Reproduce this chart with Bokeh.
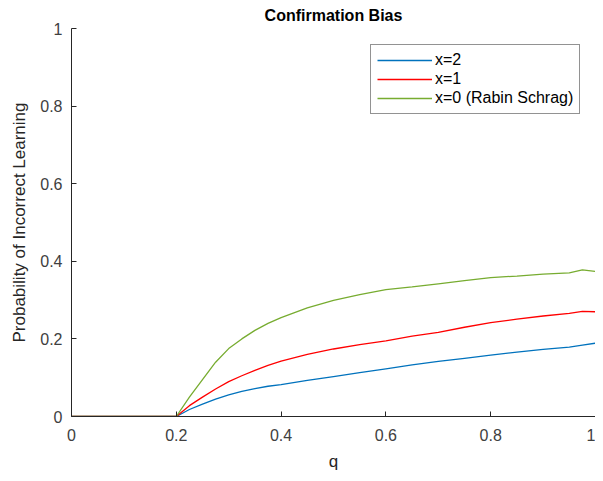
from bokeh.plotting import figure
from bokeh.models import FixedTicker, Legend, LegendItem, Range1d
from bokeh.embed import file_html
from bokeh.resources import INLINE

q = [0, 0.1, 0.2, 0.225, 0.25, 0.275, 0.3, 0.325, 0.35, 0.375, 0.4, 0.45,
     0.5, 0.55, 0.6, 0.65, 0.7, 0.75, 0.8, 0.85, 0.9, 0.95, 0.975, 1.0]
x2 = [0, 0, 0, 0.018, 0.032, 0.045, 0.056, 0.065, 0.072, 0.078, 0.082, 0.093,
      0.103, 0.113, 0.123, 0.133, 0.142, 0.150, 0.158, 0.166, 0.173, 0.179, 0.184, 0.189]
x1 = [0, 0, 0, 0.028, 0.05, 0.071, 0.09, 0.105, 0.119, 0.132, 0.143, 0.16,
      0.174, 0.185, 0.195, 0.207, 0.217, 0.23, 0.242, 0.251, 0.259, 0.266, 0.271, 0.270]
x0 = [0, 0, 0, 0.05, 0.095, 0.14, 0.175, 0.2, 0.222, 0.24, 0.255, 0.28,
      0.299, 0.314, 0.327, 0.334, 0.342, 0.35, 0.358, 0.362, 0.367, 0.370, 0.378, 0.374]
labels = ["x=2", "x=1", "x=0 (Rabin Schrag)"]
colors = ["#0072BD", "#FF0000", "#77AC30"]
ticks = [0, 0.2, 0.4, 0.6, 0.8, 1]
tick_text = {0: "0", 0.2: "0.2", 0.4: "0.4", 0.6: "0.6", 0.8: "0.8", 1: "1"}

FONT = "Liberation Sans"

p = figure(width=595, height=473, output_backend="svg", toolbar_location=None,
           x_range=Range1d(0, 1), y_range=Range1d(0, 1),
           min_border_left=71, min_border_right=0, min_border_bottom=55, min_border_top=0)
p.title.text = "Confirmation Bias"
p.title.align = "center"
p.title.text_font = FONT
p.title.text_font_size = "16px"
p.title.text_font_style = "bold"
p.title.text_color = "#000000"
p.title.standoff = 9
p.outline_line_color = None
p.grid.visible = False

for ax in (p.xaxis[0], p.yaxis[0]):
    ax.ticker = FixedTicker(ticks=ticks)
    ax.major_label_overrides = tick_text
    ax.minor_tick_line_color = None
    ax.major_tick_in = 5
    ax.major_tick_out = 0
    ax.axis_line_color = "#262626"
    ax.major_tick_line_color = "#262626"
    ax.major_label_text_font = FONT
    ax.major_label_text_font_size = "16px"
    ax.major_label_text_color = "#404040"
    ax.axis_label_text_font = FONT
    ax.axis_label_text_font_style = "normal"
    ax.axis_label_text_color = "#262626"
    ax.axis_label_text_font_size = "17px"

p.xaxis.axis_label = "q"
p.xaxis.major_label_standoff = 12
p.xaxis.axis_label_standoff = 8
p.yaxis.axis_label = "Probability of Incorrect Learning"
p.yaxis.major_label_standoff = 9
p.yaxis.axis_label_standoff = 8

items = []
for ys, lab, col in zip([x2, x1, x0], labels, colors):
    r = p.line(q, ys, line_color=col, line_width=1.3)
    items.append(LegendItem(label=lab, renderers=[r]))

legend = Legend(items=items, location=(299, 302))
legend.label_text_font = FONT
legend.label_text_font_size = "16px"
legend.label_text_color = "#000000"
legend.glyph_width = 55
legend.glyph_height = 16
legend.label_height = 16
legend.spacing = 1
legend.padding = 6
legend.margin = 0
legend.label_standoff = 3
legend.border_line_color = "#262626"
legend.border_line_width = 1
legend.background_fill_alpha = 1
p.add_layout(legend)

open("out.html", "w").write(file_html(p, INLINE))
